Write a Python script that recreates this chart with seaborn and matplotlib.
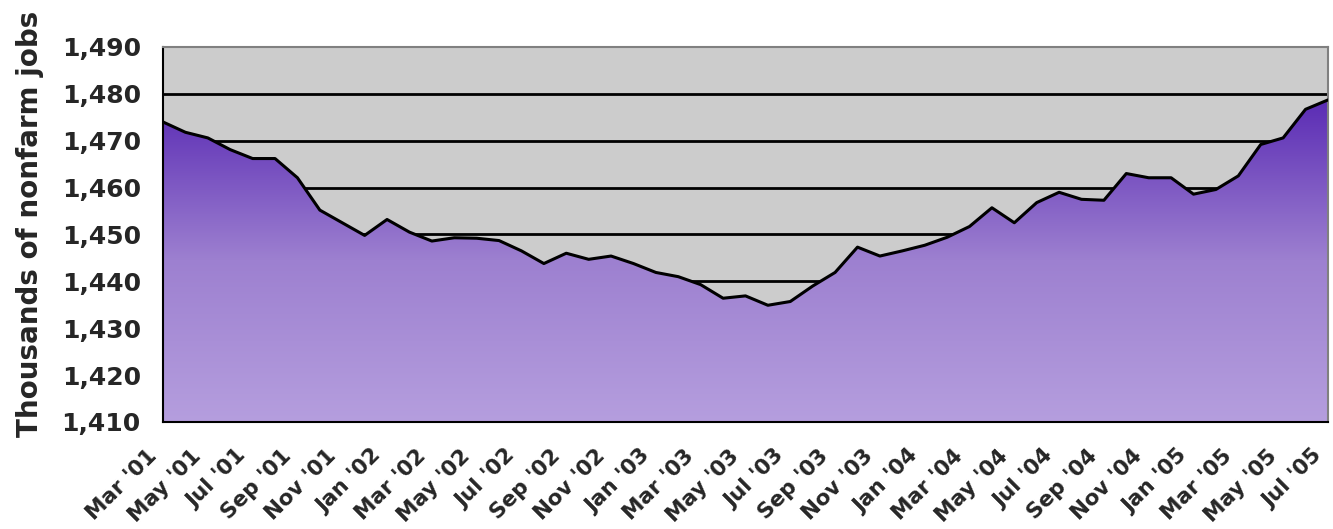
import numpy as np
import pandas as pd
import matplotlib
matplotlib.use("Agg")
import matplotlib.pyplot as plt
from matplotlib.colors import LinearSegmentedColormap
import seaborn as sns

# monthly nonfarm jobs (thousands), Mar 2001 - Jul 2005
jobs = [1474.0, 1471.8, 1470.6, 1468.1, 1466.2, 1466.2, 1462.1, 1455.2, 1452.5, 1449.8,
        1453.2, 1450.5, 1448.6, 1449.3, 1449.2, 1448.7, 1446.5, 1443.8, 1446.0, 1444.7,
        1445.4, 1443.8, 1441.9, 1441.0, 1439.3, 1436.4, 1436.9, 1434.9, 1435.7, 1439.0,
        1441.9, 1447.3, 1445.4, 1446.5, 1447.7, 1449.4, 1451.7, 1455.7, 1452.5, 1456.8,
        1459.0, 1457.5, 1457.3, 1463.0, 1462.1, 1462.1, 1458.6, 1459.6, 1462.5, 1469.2,
        1470.6, 1476.7, 1478.7]
tick_labels = ["Mar '01", "May '01", "Jul '01", "Sep '01", "Nov '01", "Jan '02", "Mar '02",
               "May '02", "Jul '02", "Sep '02", "Nov '02", "Jan '03", "Mar '03", "May '03",
               "Jul '03", "Sep '03", "Nov '03", "Jan '04", "Mar '04", "May '04", "Jul '04",
               "Sep '04", "Nov '04", "Jan '05", "Mar '05", "May '05", "Jul '05"]
y_ticks = [1410, 1420, 1430, 1440, 1450, 1460, 1470, 1480, 1490]

df = pd.DataFrame({"month": np.arange(len(jobs)), "jobs": jobs})
y_min, y_max = 1410, 1490

sns.set_style("white")
plt.rcParams["font.family"] = ["DejaVu Sans"]

fig = plt.figure(figsize=(13.33, 5.29), dpi=100)
ax = fig.add_axes([0.1223, 0.2023, 0.8739, 0.7089])
ax.set_facecolor("#cccccc")

# horizontal grid lines behind the area
for v in y_ticks[1:-1]:
    ax.axhline(v, color="black", lw=2, zorder=1)

# purple gradient fill clipped to the area under the line
poly = ax.fill_between(df["month"], y_min, df["jobs"], color="none", zorder=2)
cmap = LinearSegmentedColormap.from_list("purp", ["#b59ede", "#9d80d0", "#5a2bb4"])
grad = np.linspace(0, 1, 256).reshape(-1, 1)
img = ax.imshow(grad, cmap=cmap, origin="lower", aspect="auto",
                extent=[0, len(jobs) - 1, y_min, 1479], zorder=2)
clip = poly.get_paths()[0]
img.set_clip_path(clip, transform=ax.transData)

sns.lineplot(data=df, x="month", y="jobs", color="black", lw=2.2, ax=ax, zorder=3)

ax.set_xlim(0, len(jobs) - 1)
ax.set_ylim(y_min, y_max)
ax.set_yticks(y_ticks)
ax.set_yticklabels([f"{v:,}" for v in y_ticks], fontsize=18, fontweight="bold")
ax.set_xticks(np.arange(len(jobs)))
ax.set_xticklabels([])
# x labels every other month, rotated, ending just left of the tick
for i, lab in zip(range(0, len(jobs), 2), tick_labels):
    ax.annotate(lab, xy=(i, y_min), xycoords="data", xytext=(-12, -17),
                textcoords="offset points", rotation=45, ha="right", va="top",
                rotation_mode="anchor", fontsize=15.5, fontweight="bold",
                annotation_clip=False)
ax.tick_params(axis="y", length=6, color="#888888", pad=10)
ax.tick_params(axis="x", length=5, color="#bbbbbb")
ax.set_xlabel("")
ax.set_ylabel("Thousands of nonfarm jobs", fontsize=20, fontweight="bold")
ax.yaxis.set_label_coords(-0.102, 0.528)

for side in ["left", "bottom"]:
    ax.spines[side].set_color("black")
    ax.spines[side].set_linewidth(1.5)
for side in ["top", "right"]:
    ax.spines[side].set_color("#808080")
    ax.spines[side].set_linewidth(1.5)

fig.savefig("out.png", dpi=100)
